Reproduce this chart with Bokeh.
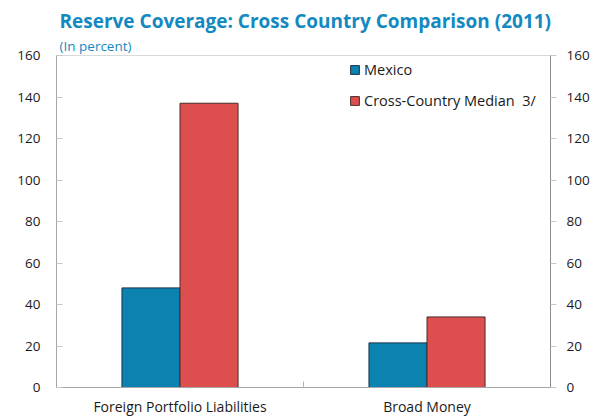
from bokeh.plotting import figure
from bokeh.models import (Range1d, LinearAxis, FixedTicker, Title, Legend, LegendItem,
                          ColumnDataSource)
from bokeh.embed import file_html
from bokeh.resources import INLINE

categories = ["Foreign Portfolio Liabilities", "Broad Money"]
mexico = [48, 21.5]
median = [137, 34]
series_names = ["Mexico", "Cross-Country Median  3/"]
y_ticks = [0, 20, 40, 60, 80, 100, 120, 140, 160]

FONT = "Open Sans"
BLUE = "#0B82B0"
RED = "#DD4F4F"
TEAL = "#1489BF"
BAR_W = 0.235

centers = [i + 0.5 for i in range(len(categories))]

p = figure(width=596, height=418, output_backend="svg", toolbar_location=None,
           x_range=Range1d(0, len(categories)), y_range=Range1d(0, 160),
           min_border_left=56, min_border_right=46, min_border_top=55,
           min_border_bottom=31, x_axis_type=None, y_axis_type=None,
           background_fill_color="white", border_fill_color="white")
p.grid.visible = False
p.outline_line_color = "#d9d9d9"
p.outline_line_width = 1

src_m = ColumnDataSource(dict(x=[c - BAR_W / 2 for c in centers], top=mexico))
src_r = ColumnDataSource(dict(x=[c + BAR_W / 2 for c in centers], top=median))
rm = p.vbar(x="x", top="top", width=BAR_W, bottom=0, source=src_m,
            fill_color=BLUE, line_color="#1d3347", line_width=1)
rr = p.vbar(x="x", top="top", width=BAR_W, bottom=0, source=src_r,
            fill_color=RED, line_color="#4a2a2a", line_width=1)

# axes
def style(ax):
    ax.major_label_text_font = FONT
    ax.major_label_text_font_size = "13.5px"
    ax.major_label_text_color = "#1a1a1a"
    ax.minor_tick_line_color = None

left = LinearAxis(ticker=FixedTicker(ticks=y_ticks))
style(left)
left.axis_line_color = "#a6a6a6"
left.major_tick_line_color = "#c8c8c8"
left.major_tick_in = 6
left.major_tick_out = 0
left.major_label_standoff = 16
p.add_layout(left, "left")

right = LinearAxis(ticker=FixedTicker(ticks=y_ticks))
style(right)
right.axis_line_color = "#8c8c8c"
right.major_tick_line_color = "#c8c8c8"
right.major_tick_in = 0
right.major_tick_out = 6
right.major_label_standoff = 10
p.add_layout(right, "right")

bottom = LinearAxis(ticker=FixedTicker(ticks=centers, minor_ticks=[1.0]))
style(bottom)
bottom.major_label_text_font_size = "14px"
bottom.minor_tick_line_color = "#b4b4b4"
bottom.minor_tick_in = 6
bottom.minor_tick_out = 0
bottom.axis_line_color = "#a6a6a6"
bottom.major_tick_line_color = None
bottom.major_tick_in = 0
bottom.major_tick_out = 0
bottom.major_label_standoff = 9
bottom.major_label_overrides = {c: n for c, n in zip(centers, categories)}
p.add_layout(bottom, "below")

# titles
p.title.text = "Reserve Coverage: Cross Country Comparison (2011)"
p.title.text_font = FONT
p.title.text_font_size = "19px"
p.title.text_font_style = "bold"
p.title.text_color = TEAL
p.title.offset = 3
p.title.standoff = 0
p.add_layout(Title(text="(In percent)", text_font=FONT, text_font_size="13.5px",
                   text_font_style="normal", text_color=TEAL, offset=3, standoff=2),
             "above")

legend = Legend(items=[LegendItem(label=series_names[0], renderers=[rm]),
                       LegendItem(label=series_names[1], renderers=[rr])],
                location=(293, 277), orientation="vertical",
                glyph_width=11, glyph_height=11, label_height=14, spacing=12,
                padding=0, margin=0, label_standoff=4,
                label_text_font=FONT, label_text_font_size="14.5px",
                label_text_color="#1a1a1a",
                border_line_color=None, background_fill_alpha=0)
p.add_layout(legend)

open("out.html", "w").write(file_html(p, INLINE))
